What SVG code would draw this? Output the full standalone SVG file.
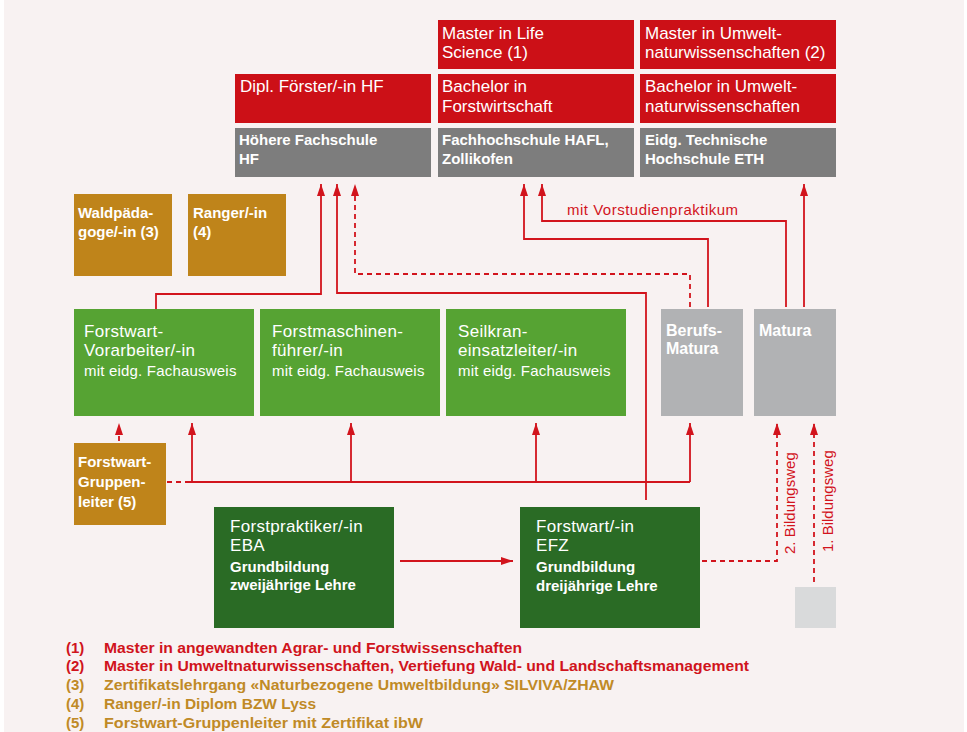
<svg xmlns="http://www.w3.org/2000/svg" width="967" height="732" viewBox="0 0 967 732">
<style>
text{font-family:"Liberation Sans",Arial,sans-serif;fill:#fff}
.t{font-size:17px}
.g{font-size:17px;letter-spacing:0.3px}
.s{font-size:15px;letter-spacing:0.2px}
.b{font-size:15px;font-weight:bold}
.m{font-size:16px;font-weight:bold}
.red{fill:#cc1017}.gry{fill:#7d7d7d}.lg{fill:#56a333}.dg{fill:#2a6b25}.gold{fill:#bf841a}.lgr{fill:#b1b2b4}.pale{fill:#d9dadb}
.c{fill:none;stroke:#d2141d;stroke-width:1.8}
.d{stroke-dasharray:5,4}
.lbl{fill:#d2141d;font-size:15px}
.lr{fill:#d0141c;font-size:15px;font-weight:bold}
.lo{fill:#c08a26;font-size:15px;font-weight:bold}
</style>
<defs>
<marker id="ah" viewBox="0 0 12 8" markerWidth="12" markerHeight="8" refX="12" refY="4" orient="auto" markerUnits="userSpaceOnUse"><path d="M0,0 L12,4 L0,8 z" fill="#d2141d"/></marker>
</defs>
<rect x="4" y="0" width="960" height="732" fill="#f8f2f2"/>

<g id="master-life"><rect class="red" x="438" y="20" width="196" height="49"/><text class="t" x="442" y="39">Master in Life</text><text class="t" x="442" y="58">Science (1)</text></g>
<g id="master-umwelt"><rect class="red" x="640" y="20" width="196" height="49"/><text class="t" x="645" y="39">Master in Umwelt-</text><text class="t" x="645" y="58">naturwissenschaften (2)</text></g>
<g id="dipl-foerster"><rect class="red" x="235" y="74" width="196" height="49"/><text class="t" x="240" y="92">Dipl. Förster/-in HF</text></g>
<g id="bachelor-forst"><rect class="red" x="438" y="74" width="196" height="49"/><text class="t" x="442" y="92">Bachelor in</text><text class="t" x="442" y="112">Forstwirtschaft</text></g>
<g id="bachelor-umwelt"><rect class="red" x="640" y="74" width="196" height="49"/><text class="t" x="645" y="92">Bachelor in Umwelt-</text><text class="t" x="645" y="112">naturwissenschaften</text></g>
<g id="hf"><rect class="gry" x="235" y="128" width="196" height="49"/><text class="b" x="239" y="145">Höhere Fachschule</text><text class="b" x="239" y="164">HF</text></g>
<g id="hafl"><rect class="gry" x="438" y="128" width="196" height="49"/><text class="b" x="442" y="145">Fachhochschule HAFL,</text><text class="b" x="442" y="164">Zollikofen</text></g>
<g id="eth"><rect class="gry" x="640" y="128" width="196" height="49"/><text class="b" x="645" y="145">Eidg. Technische</text><text class="b" x="645" y="164">Hochschule ETH</text></g>

<g id="waldpaedagoge"><rect class="gold" x="74" y="194" width="98" height="82"/><text class="b" x="78" y="218">Waldpäda-</text><text class="b" x="78" y="237">goge/-in (3)</text></g>
<g id="ranger"><rect class="gold" x="188" y="194" width="98" height="82"/><text class="b" x="193" y="218">Ranger/-in</text><text class="b" x="193" y="237">(4)</text></g>

<g id="vorarbeiter"><rect class="lg" x="74" y="309" width="180" height="107"/><text class="g" x="84" y="337">Forstwart-</text><text class="g" x="84" y="356">Vorarbeiter/-in</text><text class="s" x="84" y="376">mit eidg. Fachausweis</text></g>
<g id="forstmaschinen"><rect class="lg" x="260" y="309" width="180" height="107"/><text class="g" x="272" y="337">Forstmaschinen-</text><text class="g" x="272" y="356">führer/-in</text><text class="s" x="272" y="376">mit eidg. Fachausweis</text></g>
<g id="seilkran"><rect class="lg" x="446" y="309" width="180" height="107"/><text class="g" x="458" y="337">Seilkran-</text><text class="g" x="458" y="356">einsatzleiter/-in</text><text class="s" x="458" y="376">mit eidg. Fachausweis</text></g>
<g id="berufsmatura"><rect class="lgr" x="661" y="309" width="82" height="107"/><text class="m" x="666" y="336">Berufs-</text><text class="m" x="666" y="354">Matura</text></g>
<g id="matura"><rect class="lgr" x="754" y="309" width="82" height="107"/><text class="m" x="759" y="336">Matura</text></g>

<g id="gruppenleiter"><rect class="gold" x="74" y="443" width="92" height="82"/><text class="b" x="78" y="467">Forstwart-</text><text class="b" x="78" y="487">Gruppen-</text><text class="b" x="78" y="507">leiter (5)</text></g>
<g id="forstpraktiker"><rect class="dg" x="214" y="507" width="180" height="121"/><text class="g" x="230" y="532">Forstpraktiker/-in</text><text class="g" x="230" y="551">EBA</text><text class="b" x="230" y="572">Grundbildung</text><text class="b" x="230" y="590">zweijährige Lehre</text></g>
<g id="forstwart-efz"><rect class="dg" x="520" y="507" width="180" height="121"/><text class="g" x="536" y="532">Forstwart/-in</text><text class="g" x="536" y="551">EFZ</text><text class="b" x="536" y="572">Grundbildung</text><text class="b" x="536" y="591">dreijährige Lehre</text></g>
<g id="start"><rect class="pale" x="795" y="587" width="41" height="41"/></g>

<g id="connectors">
<path class="c" d="M156,309 V294 H321 V184" marker-end="url(#ah)"/>
<path class="c" d="M646,500 V293 H337 V184" marker-end="url(#ah)"/>
<path class="c d" d="M690,307 V274 H355 V184" marker-end="url(#ah)"/>
<path class="c" d="M708,307 V239 H524 V184" marker-end="url(#ah)"/>
<path class="c" d="M786,307 V221 H542 V184" marker-end="url(#ah)"/>
<path class="c" d="M804,307 V184" marker-end="url(#ah)"/>
<path class="c d" d="M119,441 V423" marker-end="url(#ah)"/>
<path class="c d" d="M167,482 H188"/>
<path class="c" d="M188,482 H690"/>
<path class="c" d="M192,482 V423" marker-end="url(#ah)"/>
<path class="c" d="M351,482 V423" marker-end="url(#ah)"/>
<path class="c" d="M536,482 V423" marker-end="url(#ah)"/>
<path class="c" d="M690,482 V423" marker-end="url(#ah)"/>
<path class="c" d="M400,561 H513" marker-end="url(#ah)"/>
<path class="c d" d="M702,561 H777 V423" marker-end="url(#ah)"/>
<path class="c d" d="M814,582 V423" marker-end="url(#ah)"/>
<text class="lbl" x="567" y="215" style="letter-spacing:0.5px">mit Vorstudienpraktikum</text>
<text class="lbl" transform="translate(795,554) rotate(-90)">2. Bildungsweg</text>
<text class="lbl" transform="translate(833,552) rotate(-90)">1. Bildungsweg</text>
</g>

<g id="legend">
<text class="lr" x="66" y="653">(1)</text><text class="lr" x="104" y="653" textLength="418" lengthAdjust="spacingAndGlyphs">Master in angewandten Agrar- und Forstwissenschaften</text>
<text class="lr" x="66" y="671">(2)</text><text class="lr" x="104" y="671" textLength="645" lengthAdjust="spacingAndGlyphs">Master in Umweltnaturwissenschaften, Vertiefung Wald- und Landschaftsmanagement</text>
<text class="lo" x="66" y="690">(3)</text><text class="lo" x="104" y="690" textLength="510" lengthAdjust="spacingAndGlyphs">Zertifikatslehrgang «Naturbezogene Umweltbildung» SILVIVA/ZHAW</text>
<text class="lo" x="66" y="709">(4)</text><text class="lo" x="104" y="709" textLength="212" lengthAdjust="spacingAndGlyphs">Ranger/-in Diplom BZW Lyss</text>
<text class="lo" x="66" y="728">(5)</text><text class="lo" x="104" y="728" textLength="319" lengthAdjust="spacingAndGlyphs">Forstwart-Gruppenleiter mit Zertifikat ibW</text>
</g>
</svg>
